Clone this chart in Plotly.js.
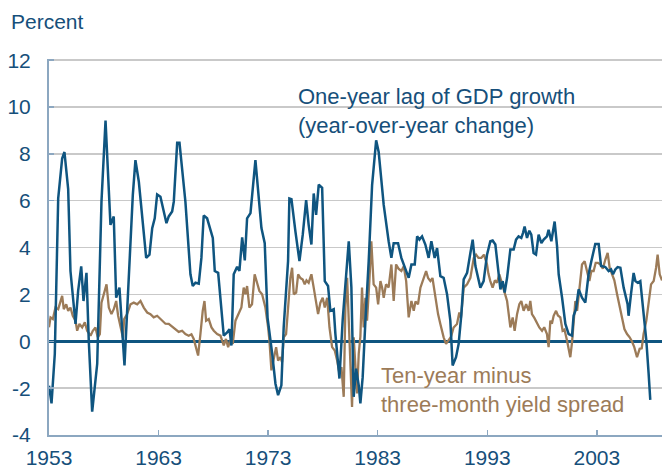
<!DOCTYPE html>
<html>
<head>
<meta charset="utf-8">
<script src="https://cdn.plot.ly/plotly-3.0.1.min.js"></script>
<style>html,body{margin:0;padding:0;background:#fff;}#chart{width:662px;height:466px;}</style>
</head>
<body>
<div id="chart"></div>
<script>
// One-year lag of GDP growth (year-over-year change)
var gdpYears = [1953.0,1953.23,1953.53,1953.84,1954.2,1954.41,1954.75,1954.96,1955.42,1955.66,1955.94,1956.15,1956.42,1956.63,1956.94,1957.4,1957.79,1958.16,1958.61,1958.91,1959.13,1959.43,1959.89,1960.65,1960.89,1961.2,1961.87,1962.17,1962.42,1962.65,1962.87,1963.17,1963.72,1963.93,1964.24,1964.39,1964.70,1964.91,1965.45,1965.91,1966.12,1966.37,1966.67,1966.91,1967.12,1967.43,1967.95,1968.13,1968.44,1968.65,1968.95,1969.26,1969.47,1969.65,1969.86,1970.17,1970.38,1970.63,1970.87,1971.08,1971.39,1971.84,1972.14,1972.39,1972.69,1972.95,1973.37,1973.67,1973.91,1974.21,1974.42,1974.82,1974.94,1975.13,1975.49,1975.86,1976.16,1976.47,1976.7,1976.95,1977.16,1977.38,1977.62,1977.93,1978.17,1978.47,1978.68,1978.99,1979.14,1979.51,1979.81,1980.05,1980.36,1980.6,1980.81,1981.03,1981.27,1981.42,1981.63,1981.88,1982.18,1982.49,1982.86,1983.09,1983.55,1984.0,1984.25,1984.46,1984.86,1985.16,1985.53,1985.83,1986.08,1986.38,1986.6,1986.81,1987.05,1987.35,1987.65,1987.9,1988.2,1988.42,1988.72,1989.02,1989.33,1989.63,1989.84,1990.15,1990.39,1990.64,1990.85,1991.16,1991.46,1991.67,1991.92,1992.37,1992.67,1992.98,1993.28,1993.49,1993.74,1994.04,1994.2,1994.41,1994.59,1994.81,1995.11,1995.41,1995.63,1995.86,1996.11,1996.26,1996.41,1996.63,1996.84,1997.02,1997.23,1997.45,1997.69,1997.94,1998.15,1998.45,1998.6,1998.85,1999.06,1999.15,1999.37,1999.52,1999.83,2000.13,2000.43,2000.74,2000.88,2001.1,2001.34,2001.65,2001.95,2002.25,2002.5,2002.86,2003.17,2003.39,2003.78,2004.08,2004.3,2004.48,2004.69,2004.9,2005.15,2005.45,2005.81,2005.9,2006.12,2006.36,2006.52,2006.73,2006.97,2007.27,2007.52,2007.73,2007.88];
var gdpValues = [-1.9,-2.65,-0.53,6.1,7.8,8.08,6.5,3.0,0.74,2.15,3.2,1.72,2.92,0.03,-3.0,-0.96,5.96,9.42,4.97,5.33,1.86,2.29,-1.03,6.25,7.73,6.81,3.56,3.7,4.83,5.25,6.27,6.17,5.04,5.33,5.54,5.96,8.47,8.47,5.96,2.86,2.36,2.5,2.46,3.56,5.37,5.25,4.41,3.0,2.92,1.86,0.24,0.38,0.52,-0.18,2.86,3.18,3.0,4.44,3.45,5.25,5.47,7.73,6.25,4.83,4.19,1.0,-0.53,-1.81,-2.3,-1.88,0.59,3.42,6.1,6.07,4.69,3.42,4.55,6.03,4.97,4.13,6.31,5.4,6.69,6.55,2.57,2.36,1.3,1.37,0.31,-1.59,0.95,2.43,4.27,2.29,-2.37,-1.17,-1.88,-2.65,-1.53,0.88,3.42,6.67,8.58,8.08,5.82,4.27,3.56,4.19,4.19,3.56,3.07,2.71,3.28,3.28,4.48,4.34,4.48,4.13,3.56,4.27,3.56,3.98,2.78,2.71,2.01,0.88,-1.03,-0.68,-0.11,1.16,2.64,2.92,3.77,4.34,3.21,2.29,2.57,3.7,4.27,4.3,4.13,2.92,2.22,2.57,2.08,2.71,3.92,3.92,4.34,4.48,4.41,4.62,4.9,4.41,4.72,4.55,3.77,3.7,4.55,4.19,4.34,4.48,4.76,4.27,4.83,5.11,4.06,2.86,1.86,0.74,0.31,0.24,1.09,1.37,2.22,1.86,1.65,2.86,3.42,4.15,4.15,3.21,3.17,3.0,3.07,2.86,3.07,3.17,3.14,2.29,1.58,1.09,2.01,2.92,2.57,2.5,2.57,1.3,0.03,-1.38,-2.5];

// Ten-year minus three-month yield spread
var spreadYears = [1953.0,1953.14,1953.35,1953.59,1953.84,1954.05,1954.2,1954.35,1954.57,1954.75,1954.96,1955.17,1955.42,1955.57,1955.78,1956.03,1956.27,1956.48,1956.79,1957.0,1957.24,1957.45,1957.64,1957.79,1958.09,1958.25,1958.46,1958.7,1958.91,1959.13,1959.31,1959.52,1959.68,1959.75,1959.86,1960.13,1960.44,1960.74,1961.05,1961.35,1961.65,1961.96,1962.26,1962.56,1962.87,1963.17,1963.33,1963.63,1963.93,1964.24,1964.54,1964.84,1965.15,1965.45,1965.75,1966.0,1966.21,1966.43,1966.61,1966.82,1967.03,1967.19,1967.34,1967.58,1967.83,1968.04,1968.35,1968.65,1968.95,1969.15,1969.35,1969.55,1969.77,1970.02,1970.26,1970.56,1970.77,1970.93,1971.08,1971.29,1971.53,1971.77,1971.99,1972.2,1972.45,1972.75,1973.0,1973.12,1973.3,1973.51,1973.73,1973.91,1974.12,1974.27,1974.42,1974.64,1974.82,1975.03,1975.19,1975.34,1975.56,1975.74,1975.95,1976.16,1976.34,1976.5,1976.7,1976.95,1977.16,1977.38,1977.56,1977.77,1977.98,1978.17,1978.39,1978.6,1978.84,1979.08,1979.3,1979.51,1979.69,1979.9,1980.05,1980.21,1980.36,1980.51,1980.66,1980.81,1980.97,1981.12,1981.27,1981.42,1981.57,1981.72,1981.88,1982.03,1982.24,1982.42,1982.63,1982.86,1983.04,1983.25,1983.4,1983.55,1983.76,1984.0,1984.25,1984.46,1984.68,1984.9,1985.16,1985.38,1985.6,1985.83,1986.08,1986.29,1986.45,1986.68,1986.9,1987.2,1987.42,1987.6,1987.81,1988.0,1988.26,1988.51,1988.72,1989.02,1989.24,1989.48,1989.7,1989.93,1990.24,1990.45,1990.6,1990.85,1991.16,1991.46,1991.77,1991.98,1992.2,1992.46,1992.7,1992.98,1993.1,1993.28,1993.49,1993.7,1993.89,1994.1,1994.35,1994.6,1994.81,1994.96,1995.11,1995.32,1995.5,1995.72,1995.93,1996.11,1996.32,1996.55,1996.78,1996.93,1997.08,1997.3,1997.54,1997.75,1998.0,1998.2,1998.45,1998.6,1998.76,1998.9,1999.06,1999.28,1999.45,1999.67,1999.88,2000.05,2000.28,2000.43,2000.58,2000.74,2000.88,2001.04,2001.2,2001.4,2001.65,2001.89,2002.11,2002.32,2002.5,2002.71,2002.9,2003.1,2003.33,2003.55,2003.78,2003.99,2004.17,2004.39,2004.6,2004.85,2005.09,2005.31,2005.52,2005.76,2006.0,2006.2,2006.42,2006.67,2006.91,2007.1,2007.27,2007.52,2007.73,2007.95,2008.19,2008.41,2008.55,2008.74,2008.95];
var spreadValues = [0.6,1.02,0.95,1.44,1.37,1.65,1.94,1.37,1.58,1.3,1.44,1.09,0.88,0.45,0.74,0.59,0.81,0.45,0.24,0.45,0.59,0.17,0.31,1.65,2.15,2.43,1.44,1.16,1.37,1.72,1.09,0.59,0.31,0.15,0.95,1.16,1.58,1.65,1.58,1.72,1.44,1.23,1.16,1.02,1.09,0.95,0.9,0.75,0.74,0.62,0.5,0.4,0.45,0.31,0.24,0.3,0.1,-0.25,-0.61,0.31,1.3,1.72,0.88,0.95,0.59,0.45,0.31,0.24,-0.18,0.1,-0.25,0.05,-0.11,0.88,1.16,1.44,2.29,2.01,2.36,1.44,1.58,2.86,2.5,2.15,2.01,1.44,0.6,0.03,-1.24,-0.82,-0.25,-0.82,-0.68,-0.89,0.17,0.31,1.44,2.71,3.14,2.01,2.08,2.86,2.7,2.64,2.43,2.6,2.5,2.86,2.29,1.58,1.16,1.65,1.86,1.44,1.86,0.59,-0.25,-0.39,-0.82,-1.38,-1.1,-2.37,1.44,2.71,0.88,-0.82,-2.8,0.17,-1.38,-2.23,-0.53,0.2,2.29,0.59,1.86,0.88,2.57,4.27,2.43,2.29,1.58,2.57,2.3,1.86,2.43,2.3,3.28,1.72,3.28,3.1,3.0,3.2,2.57,1.02,1.72,1.3,1.7,1.58,2.29,2.71,3.0,2.7,2.57,2.7,1.86,1.16,0.74,0.17,-0.11,0.03,0.2,0.59,0.74,1.23,1.0,2.29,2.43,2.71,3.56,3.7,3.56,3.56,3.7,3.28,2.9,2.57,2.29,2.6,2.5,2.86,2.43,2.0,1.72,1.16,0.59,1.02,0.45,1.16,1.58,1.72,1.3,1.58,1.3,1.72,1.16,1.0,0.74,0.59,0.45,0.6,0.31,-0.25,0.88,0.75,1.09,1.3,1.1,1.02,0.45,0.5,0.03,-0.39,-0.68,-0.04,0.74,1.72,1.3,2.22,3.28,3.42,3.0,2.57,3.0,3.0,3.35,3.35,3.28,3.1,3.49,3.77,3.14,2.86,2.6,2.01,1.44,0.88,0.52,0.31,0.17,0.0,-0.25,-0.68,-0.32,-0.3,0.31,0.88,1.72,2.43,2.57,3.14,3.7,2.86,2.6];

var xTickVals = [1953, 1963, 1973, 1983, 1993, 2003];
var xTickText = ['1953', '1963', '1973', '1983', '1993', '2003'];
var yTickVals = [-4, -2, 0, 2, 4, 6, 8, 10, 12];
var yTickText = ['-4', '-2', '0', '2', '4', '6', '8', '10', '12'];

var BLUE = '#0f5580';
var BROWN = '#9c7b58';
var TEXTBLUE = '#164f7a';
var AXIS = '#8ca7c0';
var FONT = 'Liberation Sans, Arial, sans-serif';

var traces = [
  {x: spreadYears, y: spreadValues, type: 'scatter', mode: 'lines',
   line: {color: BROWN, width: 2.3}, hoverinfo: 'skip'},
  {x: gdpYears, y: gdpValues, type: 'scatter', mode: 'lines',
   line: {color: BLUE, width: 2.5}, hoverinfo: 'skip'}
];

var layout = {
  width: 662, height: 466,
  margin: {l: 49, r: 0, t: 59, b: 31, pad: 0},
  paper_bgcolor: '#ffffff', plot_bgcolor: '#ffffff',
  showlegend: false,
  font: {family: FONT, color: TEXTBLUE},
  xaxis: {
    range: [1953, 2008.95], tickmode: 'array', tickvals: xTickVals, ticktext: xTickText,
    ticks: 'inside', ticklen: 5, tickwidth: 1.5, tickcolor: AXIS,
    showline: true, linecolor: AXIS, linewidth: 2,
    showgrid: false, zeroline: false,
    tickfont: {family: FONT, size: 21, color: TEXTBLUE},
    ticklabelstandoff: 3
  },
  yaxis: {
    range: [-4, 12.05], tickmode: 'array', tickvals: yTickVals, ticktext: yTickText,
    ticks: 'inside', ticklen: 5, tickwidth: 1.5, tickcolor: AXIS,
    showline: true, linecolor: AXIS, linewidth: 2,
    showgrid: true, gridcolor: '#c9c9c9', gridwidth: 1.5,
    zeroline: true, zerolinecolor: BLUE, zerolinewidth: 2.5,
    tickfont: {family: FONT, size: 21, color: TEXTBLUE},
    ticklabelstandoff: 12
  },
  annotations: [
    {text: 'Percent', xref: 'paper', yref: 'paper', x: -0.066, y: 1.101,
     xanchor: 'left', yanchor: 'middle', showarrow: false,
     font: {family: FONT, size: 21, color: TEXTBLUE}},
    {text: 'One-year lag of GDP growth<br>(year-over-year change)', xref: 'x', yref: 'y',
     x: 1975.5, y: 9.81, xanchor: 'left', yanchor: 'middle', align: 'left', showarrow: false,
     font: {family: FONT, size: 22, color: TEXTBLUE}},
    {text: 'Ten-year minus<br>three-month yield spread', xref: 'x', yref: 'y',
     x: 1983.1, y: -2.07, xanchor: 'left', yanchor: 'middle', align: 'left', showarrow: false,
     font: {family: FONT, size: 22, color: BROWN}}
  ]
};

Plotly.newPlot('chart', traces, layout, {staticPlot: true, displayModeBar: false});
</script>
</body>
</html>
